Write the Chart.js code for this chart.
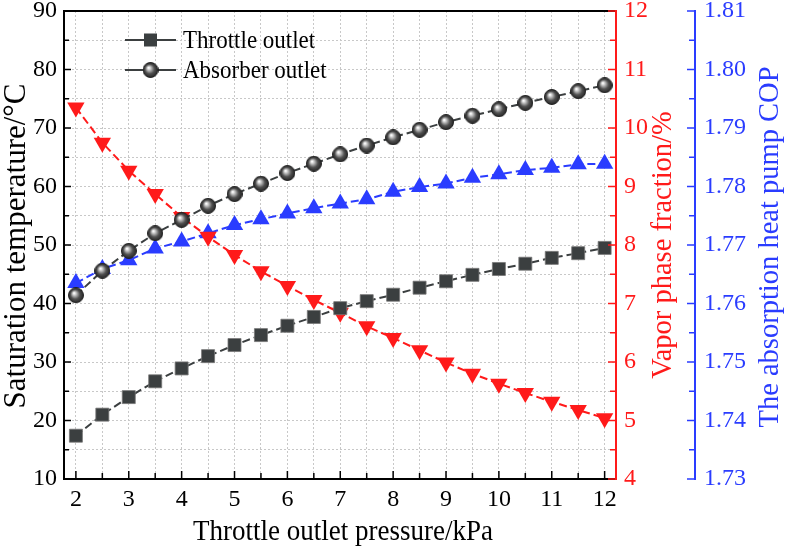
<!DOCTYPE html>
<html>
<head>
<meta charset="utf-8">
<script src="https://cdn.jsdelivr.net/npm/chart.js@4/dist/chart.umd.min.js"></script>
<style>
html,body{margin:0;padding:0;background:#fff;}
#wrap{width:787px;height:549px;}
</style>
</head>
<body>
<div id="wrap"><canvas id="c" width="787" height="549"></canvas></div>
<script>
// ---- data ----
const pressure = [2,2.5,3,3.5,4,4.5,5,5.5,6,6.5,7,7.5,8,8.5,9,9.5,10,10.5,11,11.5,12];
const throttleOutlet = [17.4,21.0,24.0,26.7,28.9,31.0,32.9,34.6,36.2,37.7,39.2,40.4,41.5,42.7,43.8,44.9,45.9,46.8,47.8,48.6,49.5];
const absorberOutlet = [41.4,45.6,49.0,52.0,54.3,56.7,58.7,60.5,62.3,63.9,65.5,67.0,68.4,69.7,71.0,72.1,73.2,74.3,75.3,76.3,77.3];
const vaporFraction = [10.35,9.75,9.27,8.87,8.48,8.14,7.83,7.55,7.30,7.06,6.84,6.61,6.41,6.20,5.99,5.80,5.63,5.47,5.32,5.18,5.04];
const cop = [1.7635,1.7659,1.7674,1.7694,1.7706,1.7720,1.7734,1.7744,1.7754,1.7763,1.7771,1.7778,1.7791,1.7799,1.7805,1.7815,1.7821,1.7828,1.7832,1.7838,1.7839];
const xTicks = [2,2.5,3,3.5,4,4.5,5,5.5,6,6.5,7,7.5,8,8.5,9,9.5,10,10.5,11,11.5,12];
const yTicks = [10,15,20,25,30,35,40,45,50,55,60,65,70,75,80,85,90];
const y2Ticks = [4,4.5,5,5.5,6,6.5,7,7.5,8,8.5,9,9.5,10,10.5,11,11.5,12];
const y3Ticks = [1.730,1.735,1.740,1.745,1.750,1.755,1.760,1.765,1.770,1.775,1.780,1.785,1.790,1.795,1.800,1.805,1.810];
const seriesNames = ['Throttle outlet','Absorber outlet','Vapor phase fraction','COP'];
const titles = {x:'Throttle outlet pressure/kPa', y:'Saturation temperature/\u00B0C', y2:'Vapor phase fraction/%', y3:'The absorption heat pump COP'};

const FONT = "'Liberation Serif', 'Times New Roman', serif";
const RED = '#ff1a1a';
const BLUE = '#2a3cff';
const DARK = '#3b3f40';

// sphere marker
function sphere(d){
  const c = document.createElement('canvas'); c.width = d; c.height = d;
  const g = c.getContext('2d');
  const r = d/2 - 0.5;
  const gr = g.createRadialGradient(d*0.38, d*0.36, 0.5, d/2, d/2, r);
  gr.addColorStop(0, '#ffffff');
  gr.addColorStop(0.25, '#b8b8b8');
  gr.addColorStop(0.6, '#505050');
  gr.addColorStop(1, '#262626');
  g.beginPath(); g.arc(d/2, d/2, r, 0, Math.PI*2); g.fillStyle = gr; g.fill();
  g.lineWidth = 1; g.strokeStyle = '#222'; g.stroke();
  return c;
}
const ball = sphere(16);

const tickSetter = (arr) => (s) => { s.ticks = arr.map(v => ({value: v})); };
const fitV = (w) => (s) => { s.width = w; s.paddingTop = 0; s.paddingBottom = 0; };

const axesPlugin = {
  id: 'axesPlugin',
  afterDatasetsDraw(chart) {
    const {ctx, chartArea: ca, scales} = chart;
    ctx.save();
    ctx.lineCap = 'butt';
    ctx.lineWidth = 2;
    ctx.strokeStyle = '#000';
    ctx.beginPath();
    ctx.moveTo(ca.left, ca.top); ctx.lineTo(ca.right, ca.top);
    ctx.moveTo(ca.left, ca.top - 1); ctx.lineTo(ca.left, ca.bottom + 1);
    ctx.moveTo(ca.left, ca.bottom); ctx.lineTo(ca.right, ca.bottom);
    ctx.stroke();
    ctx.lineWidth = 1.5;
    ctx.beginPath();
    scales.y.ticks.forEach(t => {
      const py = scales.y.getPixelForValue(t.value);
      const len = (t.value % 10 === 0) ? 7 : 5;
      ctx.moveTo(ca.left, py); ctx.lineTo(ca.left + len, py);
    });
    scales.x.ticks.forEach(t => {
      const px = scales.x.getPixelForValue(t.value);
      const len = Number.isInteger(t.value) ? 8 : 6;
      ctx.moveTo(px, ca.bottom); ctx.lineTo(px, ca.bottom - len);
    });
    ctx.stroke();
    const rx = scales.y2.left;
    ctx.strokeStyle = RED; ctx.lineWidth = 2;
    ctx.beginPath(); ctx.moveTo(rx, ca.top - 1); ctx.lineTo(rx, ca.bottom + 1); ctx.stroke();
    ctx.lineWidth = 1.5; ctx.beginPath();
    scales.y2.ticks.forEach(t => {
      const py = scales.y2.getPixelForValue(t.value);
      const len = Number.isInteger(t.value) ? 8 : 6;
      ctx.moveTo(rx, py); ctx.lineTo(rx - len, py);
    });
    ctx.stroke();
    const bx = scales.y3.left;
    ctx.strokeStyle = BLUE; ctx.lineWidth = 2;
    ctx.beginPath(); ctx.moveTo(bx, ca.top - 1); ctx.lineTo(bx, ca.bottom + 1); ctx.stroke();
    ctx.lineWidth = 1.5; ctx.beginPath();
    scales.y3.ticks.forEach((t,i) => {
      const py = scales.y3.getPixelForValue(t.value);
      const len = (i % 2 === 0) ? 8 : 6;
      ctx.moveTo(bx, py); ctx.lineTo(bx - len, py);
    });
    ctx.stroke();

    ctx.textAlign = 'center'; ctx.textBaseline = 'middle';
    ctx.fillStyle = '#000';
    // x title: slightly taller than wide, as in the reference
    ctx.save();
    ctx.translate(343, 532); ctx.scale(1, 1.12);
    ctx.font = '27px ' + FONT;
    ctx.fillText(titles.x, 0, 0);
    ctx.restore();
    const rot = (text, x, y, color, size) => {
      ctx.save(); ctx.translate(x, y); ctx.rotate(-Math.PI/2);
      ctx.font = size + 'px ' + FONT;
      ctx.fillStyle = color; ctx.fillText(text, 0, 0); ctx.restore();
    };
    rot(titles.y, 17, 246, '#000', 31);
    rot(titles.y2, 664, 245, RED, 28.5);
    rot(titles.y3, 771, 247, BLUE, 28.5);

    const items = [
      {label: seriesNames[0], y: 40, marker: 'sq'},
      {label: seriesNames[1], y: 70, marker: 'ball'}
    ];
    items.forEach(it => {
      ctx.strokeStyle = DARK; ctx.lineWidth = 2;
      ctx.beginPath();
      ctx.moveTo(125, it.y); ctx.lineTo(144, it.y);
      ctx.moveTo(157, it.y); ctx.lineTo(176, it.y);
      ctx.stroke();
      if (it.marker === 'sq') {
        ctx.fillStyle = DARK; ctx.fillRect(144, it.y - 6.5, 13, 13);
      } else {
        ctx.drawImage(ball, 150.5 - 8, it.y - 8);
      }
      ctx.save();
      ctx.translate(183, it.y + 1); ctx.scale(1, 1.12);
      ctx.fillStyle = '#000'; ctx.textAlign = 'left';
      ctx.font = '23px ' + FONT;
      ctx.fillText(it.label, 0, 0);
      ctx.restore();
    });
    ctx.restore();
  }
};

const gridDash = {display: false, dash: [2, 2]};
new Chart(document.getElementById('c'), {
  type: 'line',
  data: {
    datasets: [
      {label: seriesNames[0], data: pressure.map((x,i)=>({x, y: throttleOutlet[i]})), yAxisID: 'y',
       borderColor: DARK, borderWidth: 2, borderDash: [8,4], pointStyle: 'rect', pointRadius: 9.2,
       pointBackgroundColor: DARK, pointBorderColor: '#777', pointBorderWidth: 0.8, tension: 0},
      {label: seriesNames[1], data: pressure.map((x,i)=>({x, y: absorberOutlet[i]})), yAxisID: 'y',
       borderColor: DARK, borderWidth: 2, borderDash: [8,4], pointStyle: ball, pointRadius: 8, tension: 0},
      {label: seriesNames[2], data: pressure.map((x,i)=>({x, y: vaporFraction[i]})), yAxisID: 'y2',
       borderColor: RED, borderWidth: 2, borderDash: [8,4], pointStyle: 'triangle', pointRotation: 180,
       pointRadius: 10, pointBackgroundColor: RED, pointBorderColor: RED, pointBorderWidth: 0, tension: 0},
      {label: seriesNames[3], data: pressure.map((x,i)=>({x, y: cop[i]})), yAxisID: 'y3',
       borderColor: BLUE, borderWidth: 2, borderDash: [8,4], pointStyle: 'triangle',
       pointRadius: 10, pointBackgroundColor: BLUE, pointBorderColor: BLUE, pointBorderWidth: 0, tension: 0}
    ]
  },
  options: {
    responsive: false, animation: false, devicePixelRatio: 1,
    layout: {padding: {top: 11, left: 0, right: 0, bottom: 0}},
    plugins: {legend: {display: false}, tooltip: {enabled: false}},
    scales: {
      x: {type: 'linear', position: 'bottom', min: 1.775, max: 12.215,
          afterBuildTicks: tickSetter(xTicks),
          afterFit: s => { s.height = 70; s.paddingLeft = 0; s.paddingRight = 0; },
          grid: {color: '#c8c8c8', lineWidth: 1, drawTicks: false},
          border: gridDash,
          ticks: {autoSkip: false, maxRotation: 0, padding: 6, color: '#000',
                  font: {family: FONT, size: 24},
                  callback: v => Number.isInteger(v) ? String(v) : ''}},
      y: {type: 'linear', position: 'left', min: 10, max: 90,
          afterBuildTicks: tickSetter(yTicks),
          afterFit: fitV(64),
          grid: {color: '#c8c8c8', lineWidth: 1, drawTicks: false},
          border: gridDash,
          ticks: {autoSkip: false, padding: 7, color: '#000', font: {family: FONT, size: 24},
                  callback: v => (v % 10 === 0) ? String(v) : ''}},
      y2: {type: 'linear', position: 'right', min: 4, max: 12, weight: 0,
          afterBuildTicks: tickSetter(y2Ticks),
          afterFit: fitV(79),
          grid: {drawOnChartArea: false, drawTicks: false},
          border: {display: false},
          ticks: {autoSkip: false, padding: 8, color: RED, font: {family: FONT, size: 24},
                  callback: v => Number.isInteger(v) ? String(v) : ''}},
      y3: {type: 'linear', position: 'right', min: 1.73, max: 1.81, weight: 1,
          afterBuildTicks: tickSetter(y3Ticks),
          afterFit: fitV(92),
          grid: {drawOnChartArea: false, drawTicks: false},
          border: {display: false},
          ticks: {autoSkip: false, padding: 9, color: BLUE, font: {family: FONT, size: 24},
                  callback: (v, i) => (i % 2 === 0) ? v.toFixed(2) : ''}}
    }
  },
  plugins: [axesPlugin]
});
</script>
</body>
</html>
